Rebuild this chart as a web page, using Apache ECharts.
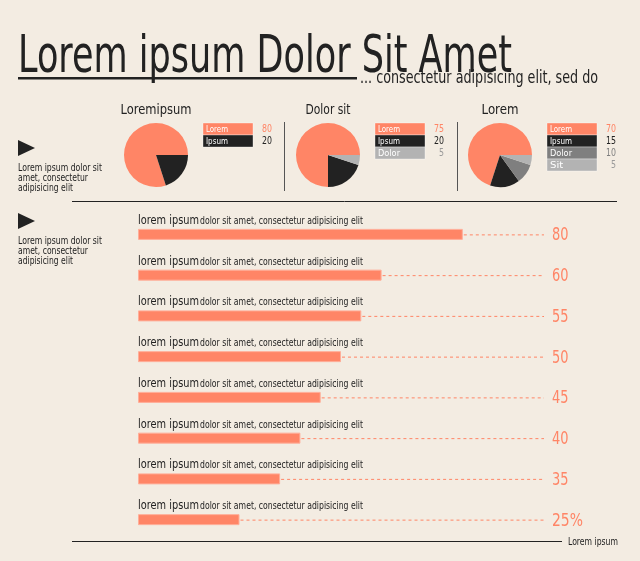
<!DOCTYPE html>
<html>
<head>
<meta charset="utf-8">
<script src="https://cdn.jsdelivr.net/npm/echarts@6/dist/echarts.min.js"></script>
<style>
  html, body { margin: 0; padding: 0; background: #f3ece2; }
  #chart { width: 640px; height: 561px; }
</style>
</head>
<body>
<div id="chart"></div>
<script>
// data
const pieTitles = ['Loremipsum', 'Dolor sit', 'Lorem'];
const pieNames = [
  ['Lorem', 'Ipsum'],
  ['Lorem', 'Ipsum', 'Dolor'],
  ['Lorem', 'Ipsum', 'Dolor', 'Sit']
];
const pieValues = [
  [80, 20],
  [75, 20, 5],
  [70, 15, 10, 5]
];
const barCategories = ['Lorem ipsum 1', 'Lorem ipsum 2', 'Lorem ipsum 3', 'Lorem ipsum 4',
  'Lorem ipsum 5', 'Lorem ipsum 6', 'Lorem ipsum 7', 'Lorem ipsum 8'];
const barValues = [80, 60, 55, 50, 45, 40, 35, 25];
const barValueLabels = ['80', '60', '55', '50', '45', '40', '35', '25%'];
const barCaptionHead = 'lorem ipsum';
const barCaptionTail = 'dolor sit amet, consectetur adipisicing elit';
const noteLines = ['Lorem ipsum dolor sit', 'amet, consectetur', 'adipisicing elit'];

const ORANGE = '#ff8566';
const DARK = '#222222';
const MID = '#7f7f7f';
const LIGHT = '#b3b3b3';
const pieColors = [
  [ORANGE, DARK],
  [ORANGE, DARK, LIGHT],
  [ORANGE, DARK, MID, LIGHT]
];
const FONT = '"DejaVu Sans", sans-serif';

// squeeze text horizontally to a target width
const measureCtx = document.createElement('canvas').getContext('2d');
function fitX(text, size, width) {
  measureCtx.font = size + 'px ' + FONT;
  return width / measureCtx.measureText(text).width;
}
function label(text, x, y, size, width, fill, align) {
  return {
    type: 'text', x: x, y: y, scaleX: fitX(text, size, width),
    style: { text: text, font: size + 'px ' + FONT, fill: fill, align: align || 'left', verticalAlign: 'middle' }
  };
}

const pieCenters = [[156, 155], [328, 155], [500, 155]];
const graphic = [];

// heading
graphic.push(label('Lorem ipsum Dolor Sit Amet', 18, 59, 51, 494, DARK));
graphic.push({ type: 'rect', shape: { x: 18, y: 77, width: 339, height: 2.5 }, style: { fill: DARK } });
graphic.push(label('... consectetur adipisicing elit, sed do', 360, 78.5, 17, 238, DARK));

// pie titles and legends
pieTitles.forEach(function (t, k) {
  const cx = pieCenters[k][0];
  graphic.push(label(t, cx, 110.5, 14, [71, 45, 37][k], DARK, 'center'));
  const lx = cx + 47;
  pieNames[k].forEach(function (n, j) {
    const y = 123 + j * 12;
    const c = pieColors[k][j];
    graphic.push({ type: 'rect', shape: { x: lx, y: y, width: 50, height: 12 },
      style: { fill: c, stroke: 'rgba(255,255,255,0.35)', lineWidth: 1 } });
    graphic.push(label(n, lx + 3, y + 6.5, 9, n.length * 4.4, '#ffffff'));
    const v = String(pieValues[k][j]);
    graphic.push(label(v, lx + 69, y + 6.5, 10, v.length * 5, c === LIGHT ? '#9a9a9a' : c, 'right'));
  });
});
[284.5, 457.5].forEach(function (x) {
  graphic.push({ type: 'line', shape: { x1: x, y1: 122, x2: x, y2: 191 }, style: { stroke: '#555', lineWidth: 1 } });
});

// side notes with arrows
[[140, 168.5], [213, 241]].forEach(function (p) {
  graphic.push({ type: 'polygon', shape: { points: [[18, p[0]], [35, p[0] + 8], [18, p[0] + 16]] }, style: { fill: DARK } });
  noteLines.forEach(function (t, j) {
    graphic.push(label(t, 18, p[1] + j * 10, 10, [84, 70, 55][j], DARK));
  });
});

// rules
graphic.push({ type: 'line', shape: { x1: 72, y1: 201.5, x2: 617, y2: 201.5 }, style: { stroke: DARK, lineWidth: 1 } });
graphic.push({ type: 'line', shape: { x1: 72, y1: 541.5, x2: 562, y2: 541.5 }, style: { stroke: DARK, lineWidth: 1 } });
graphic.push(label('Lorem ipsum', 568, 542.5, 10, 50, DARK));

const pieSeries = pieValues.map(function (vals, k) {
  return {
    type: 'pie',
    center: pieCenters[k],
    radius: 32,
    startAngle: 0,
    clockwise: false,
    silent: true,
    label: { show: false },
    labelLine: { show: false },
    itemStyle: { borderWidth: 0 },
    data: vals.map(function (v, j) {
      return { name: pieNames[k][j], value: v, itemStyle: { color: pieColors[k][j] } };
    })
  };
});

const BAR_H = 11;
const option = {
  backgroundColor: '#f3ece2',
  animation: false,
  grid: { left: 138, width: 406, top: 214, height: 326 },
  xAxis: { type: 'value', min: 0, max: 100, show: false },
  yAxis: { type: 'category', data: barCategories, inverse: true, show: false },
  graphic: graphic,
  series: pieSeries.concat([
    {
      type: 'bar',
      data: barValues,
      barWidth: BAR_H,
      itemStyle: { color: ORANGE, borderColor: '#ffae99', borderWidth: 1 }
    },
    {
      type: 'custom',
      data: barValues.map(function (v, i) { return [v, i]; }),
      renderItem: function (params, api) {
        const i = params.dataIndex;
        const end = api.coord([api.value(0), api.value(1)]);
        const full = api.coord([100, api.value(1)]);
        const start = api.coord([0, api.value(1)]);
        const top = end[1] - BAR_H / 2;
        const txt = barValueLabels[i];
        return {
          type: 'group',
          children: [
            { type: 'line', shape: { x1: end[0] + 1, y1: end[1] + 0.5, x2: full[0], y2: end[1] + 0.5 },
              style: { stroke: ORANGE, lineWidth: 1, lineDash: [3, 3] } },
            { type: 'text', x: full[0] + 8, y: end[1] + 1.5, scaleX: fitX(txt, 17, txt.length === 3 ? 31 : 16.5),
              style: { text: txt, font: '17px ' + FONT, fill: ORANGE, verticalAlign: 'middle' } },
            { type: 'text', x: start[0], y: top - 8.5, scaleX: fitX(barCaptionHead, 13, 61),
              style: { text: barCaptionHead, font: '13px ' + FONT, fill: DARK, verticalAlign: 'middle' } },
            { type: 'text', x: start[0] + 62, y: top - 7.5, scaleX: fitX(barCaptionTail, 10, 163),
              style: { text: barCaptionTail, font: '10px ' + FONT, fill: DARK, verticalAlign: 'middle' } }
          ]
        };
      }
    }
  ])
};

const chart = echarts.init(document.getElementById('chart'));
chart.setOption(option);
window.addEventListener('resize', function () { chart.resize(); });
</script>
</body>
</html>
